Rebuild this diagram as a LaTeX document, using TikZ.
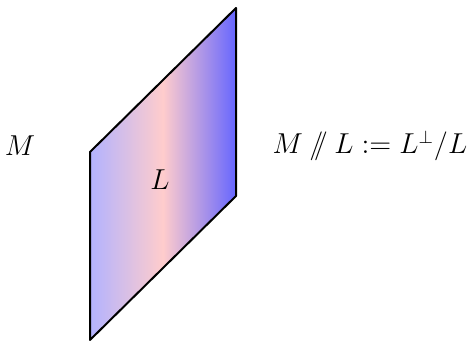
\documentclass[tikz,border=0pt]{standalone}
\usetikzlibrary{shadings}
\newcommand{\quotby}{\mathbin{/\mkern-6mu/}}
\begin{document}
\begin{tikzpicture}[x=0.5pt,y=0.5pt,
  lbl/.style={font=\fontsize{13.3}{16}\selectfont}]
\useasboundingbox (0,0) rectangle (467,347);
\shade[left color=blue!30,right color=blue!60,middle color=red!20] (90,7) -- (90,195) -- (236,339) -- (236,151) -- cycle;
\draw[line width=1pt,line join=round] (90,7) -- (90,195) -- (236,339) -- (236,151) -- cycle;

\node[lbl] (M) at (20,201) {$M$};
\node[lbl] (L) at (160,167) {$L$};
\node[lbl] (Q) at (370,201) {$M \quotby L := L^{\perp}/L$};
\end{tikzpicture}
\end{document}
